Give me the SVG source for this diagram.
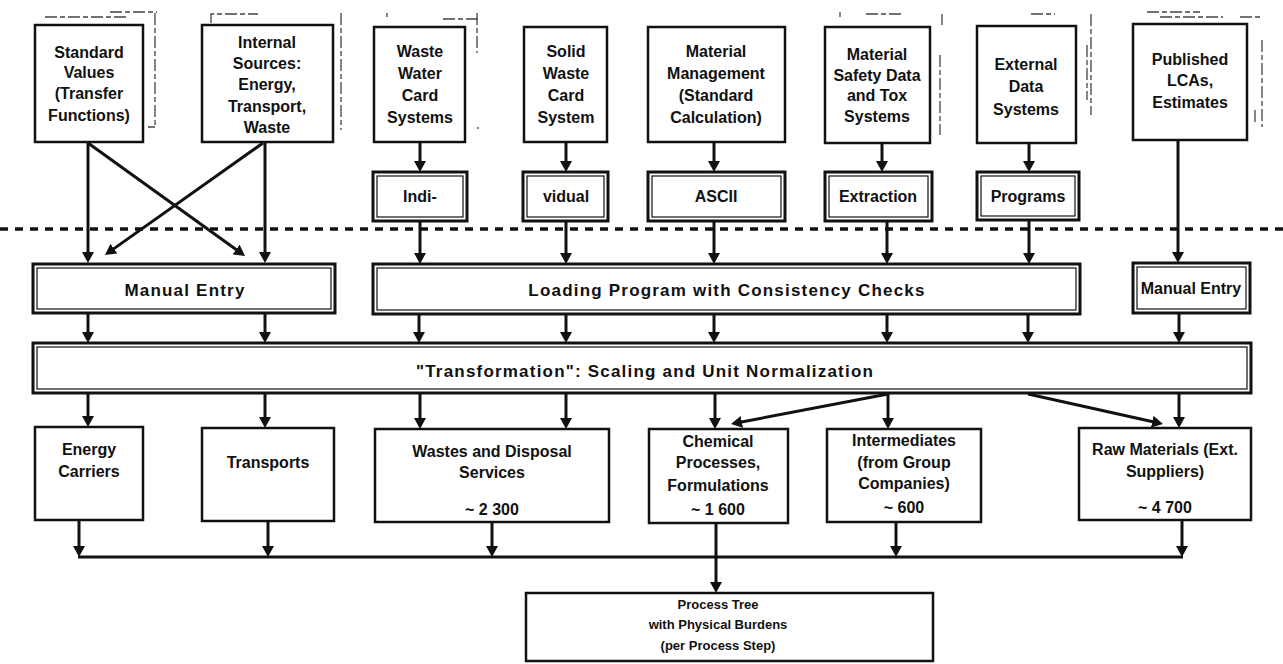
<svg xmlns="http://www.w3.org/2000/svg" width="1283" height="664" viewBox="0 0 1283 664">
<defs>
<marker id="ah" viewBox="0 0 12 12" refX="3" refY="6" markerWidth="12" markerHeight="12" markerUnits="userSpaceOnUse" orient="auto"><path d="M0,0 L11,6 L0,12 z" fill="#111"/></marker>
</defs>
<style>
.box{fill:#fff;stroke:#111;stroke-width:2.5}
.dbl{fill:#fff;stroke:#111;stroke-width:3}
.inner{fill:none;stroke:#111;stroke-width:1.2}
.t{font-family:"Liberation Sans",Arial,Helvetica,sans-serif;font-weight:bold;font-size:16px;fill:#111;text-anchor:middle}
.big{font-size:17px;letter-spacing:1.2px}
.sm{font-size:13px}
.ln{stroke:#111;stroke-width:3;fill:none}
.ar{marker-end:url(#ah)}
.dash{stroke:#111;stroke-width:3.5;stroke-dasharray:8 7;fill:none}
.ghost{stroke:#444;stroke-width:1.3;fill:none;stroke-dasharray:12 3 5 3}
</style>
<rect width="1283" height="664" fill="#fff"/>

<g id="ghosts">
<path class="ghost" d="M45,17 H128 M110,12 H157 M155,13 V127 M148,127 H155"/>
<path class="ghost" d="M211,23 V14 H258 M341,13 V130"/>
<path class="ghost" d="M387,13 V17 M443,19 H478 M477,13 V53 M478,127 V129"/>
<path class="ghost" d="M840,12 V17 M866,14 H903 M942,14 V25 M940,55 V135"/>
<path class="ghost" d="M1031,14 H1055 M1091,14 V115 M1087,45 V100"/>
<path class="ghost" d="M1147,12 H1200 M1160,17 H1223 M1240,17 H1262 M1262,40 V127 M1255,110 V125"/>
</g>

<g id="n-standard"><rect class="box" x="35" y="25" width="108" height="117"/>
<text class="t" x="89" y="58">Standard</text><text class="t" x="89" y="78">Values</text><text class="t" x="89" y="99">(Transfer</text><text class="t" x="89" y="121">Functions)</text></g>
<g id="n-internal"><rect class="box" x="202" y="25" width="131" height="117"/>
<text class="t" x="267" y="48">Internal</text><text class="t" x="267" y="69">Sources:</text><text class="t" x="267" y="90">Energy,</text><text class="t" x="267" y="112">Transport,</text><text class="t" x="267" y="133">Waste</text></g>
<g id="n-wastewater"><rect class="box" x="374" y="27" width="91" height="115"/>
<text class="t" x="420" y="57">Waste</text><text class="t" x="420" y="79">Water</text><text class="t" x="420" y="101">Card</text><text class="t" x="420" y="123">Systems</text></g>
<g id="n-solidwaste"><rect class="box" x="524" y="27" width="83" height="115"/>
<text class="t" x="566" y="57">Solid</text><text class="t" x="566" y="79">Waste</text><text class="t" x="566" y="101">Card</text><text class="t" x="566" y="123">System</text></g>
<g id="n-matmgmt"><rect class="box" x="648" y="27" width="137" height="115"/>
<text class="t" x="716" y="57">Material</text><text class="t" x="716" y="79">Management</text><text class="t" x="716" y="101">(Standard</text><text class="t" x="716" y="123">Calculation)</text></g>
<g id="n-matsafety"><rect class="box" x="825" y="27" width="105" height="116"/>
<text class="t" x="877" y="60">Material</text><text class="t" x="877" y="81">Safety Data</text><text class="t" x="877" y="101">and Tox</text><text class="t" x="877" y="122">Systems</text></g>
<g id="n-external"><rect class="box" x="977" y="26" width="99" height="117"/>
<text class="t" x="1026" y="70">External</text><text class="t" x="1026" y="92">Data</text><text class="t" x="1026" y="115">Systems</text></g>
<g id="n-published"><rect class="box" x="1133" y="24" width="114" height="116"/>
<text class="t" x="1190" y="65">Published</text><text class="t" x="1190" y="86">LCAs,</text><text class="t" x="1190" y="108">Estimates</text></g>

<g id="n-indi"><rect class="dbl" x="373" y="172" width="94" height="49"/><rect class="inner" x="377" y="176" width="86" height="41"/>
<text class="t" x="420" y="202">Indi-</text></g>
<g id="n-vidual"><rect class="dbl" x="523" y="172" width="85" height="49"/><rect class="inner" x="527" y="176" width="77" height="41"/>
<text class="t" x="566" y="202">vidual</text></g>
<g id="n-ascii"><rect class="dbl" x="648" y="172" width="137" height="49"/><rect class="inner" x="652" y="176" width="129" height="41"/>
<text class="t" x="716" y="202">ASCII</text></g>
<g id="n-extraction"><rect class="dbl" x="825" y="172" width="107" height="49"/><rect class="inner" x="829" y="176" width="99" height="41"/>
<text class="t" x="878" y="202">Extraction</text></g>
<g id="n-programs"><rect class="dbl" x="977" y="172" width="102" height="48"/><rect class="inner" x="981" y="176" width="94" height="40"/>
<text class="t" x="1028" y="202">Programs</text></g>

<g id="n-manual1"><rect class="dbl" x="33" y="264" width="302" height="49"/><rect class="inner" x="37" y="268" width="294" height="41"/>
<text class="t big" x="185" y="296">Manual Entry</text></g>
<g id="n-loading"><rect class="dbl" x="373" y="264" width="707" height="50"/><rect class="inner" x="377" y="268" width="699" height="42"/>
<text class="t big" x="727" y="296">Loading Program with Consistency Checks</text></g>
<g id="n-manual2"><rect class="dbl" x="1133" y="263" width="117" height="50"/><rect class="inner" x="1137" y="267" width="109" height="42"/>
<text class="t" x="1191" y="294">Manual Entry</text></g>

<g id="n-transformation"><rect class="dbl" x="33" y="343" width="1218" height="50"/><rect class="inner" x="37" y="347" width="1210" height="42"/>
<text class="t big" x="645" y="377">"Transformation": Scaling and Unit Normalization</text></g>

<g id="n-energy"><rect class="box" x="35" y="427" width="108" height="93"/>
<text class="t" x="89" y="455">Energy</text><text class="t" x="89" y="477">Carriers</text></g>
<g id="n-transports"><rect class="box" x="202" y="428" width="132" height="93"/>
<text class="t" x="268" y="468">Transports</text></g>
<g id="n-wastes"><rect class="box" x="375" y="429" width="234" height="93"/>
<text class="t" x="492" y="457">Wastes and Disposal</text><text class="t" x="492" y="478">Services</text><text class="t" x="492" y="515">~ 2 300</text></g>
<g id="n-chemical"><rect class="box" x="649" y="429" width="139" height="94"/>
<text class="t" x="718" y="447">Chemical</text><text class="t" x="718" y="468">Processes,</text><text class="t" x="718" y="491">Formulations</text><text class="t" x="718" y="515">~ 1 600</text></g>
<g id="n-intermediates"><rect class="box" x="827" y="429" width="154" height="93"/>
<text class="t" x="904" y="446">Intermediates</text><text class="t" x="904" y="468">(from Group</text><text class="t" x="904" y="489">Companies)</text><text class="t" x="904" y="513">~ 600</text></g>
<g id="n-raw"><rect class="box" x="1079" y="428" width="172" height="92"/>
<text class="t" x="1165" y="455">Raw Materials (Ext.</text><text class="t" x="1165" y="477">Suppliers)</text><text class="t" x="1165" y="513">~ 4 700</text></g>

<g id="n-processtree"><rect class="box" x="526" y="593" width="407" height="68"/>
<text class="t sm" x="718" y="609">Process Tree</text><text class="t sm" x="718" y="629">with Physical Burdens</text><text class="t sm" x="718" y="650">(per Process Step)</text></g>

<g id="connectors">
<line class="dash" x1="0" y1="229" x2="1283" y2="229"/>
<path class="ln ar" d="M88,142 V255"/>
<path class="ln ar" d="M265,142 V255"/>
<path class="ln ar" d="M88,143 L238.5,251.3"/>
<path class="ln ar" d="M263,143 L111.5,250.4"/>
<path class="ln ar" d="M420,142 V164"/>
<path class="ln ar" d="M566,142 V164"/>
<path class="ln ar" d="M714,142 V164"/>
<path class="ln ar" d="M882,143 V164"/>
<path class="ln ar" d="M1029,143 V164"/>
<path class="ln ar" d="M1178,140 V255"/>
<path class="ln ar" d="M420,221 V256"/>
<path class="ln ar" d="M566,221 V256"/>
<path class="ln ar" d="M714,221 V256"/>
<path class="ln ar" d="M887,221 V256"/>
<path class="ln ar" d="M1029,220 V256"/>
<path class="ln ar" d="M88,313 V335"/>
<path class="ln ar" d="M265,313 V335"/>
<path class="ln ar" d="M419,314 V335"/>
<path class="ln ar" d="M566,314 V335"/>
<path class="ln ar" d="M714,314 V335"/>
<path class="ln ar" d="M887,314 V335"/>
<path class="ln ar" d="M1028,314 V335"/>
<path class="ln ar" d="M1179,313 V335"/>
<path class="ln ar" d="M88,393 V419"/>
<path class="ln ar" d="M265,393 V420"/>
<path class="ln ar" d="M420,393 V421"/>
<path class="ln ar" d="M566,393 V421"/>
<path class="ln ar" d="M715,393 V421"/>
<path class="ln ar" d="M888,393 V421"/>
<path class="ln ar" d="M1179,393 V420"/>
<path class="ln ar" d="M888,394 L738.9,422.5"/>
<path class="ln ar" d="M1028,394 L1155.2,422.3"/>
<path class="ln" d="M78,557 H1183"/>
<path class="ln ar" d="M79,520 V549"/>
<path class="ln ar" d="M268,521 V549"/>
<path class="ln ar" d="M492,522 V549"/>
<path class="ln ar" d="M896,522 V549"/>
<path class="ln ar" d="M1182,520 V549"/>
<path class="ln ar" d="M716,523 V585"/>
</g>
</svg>
